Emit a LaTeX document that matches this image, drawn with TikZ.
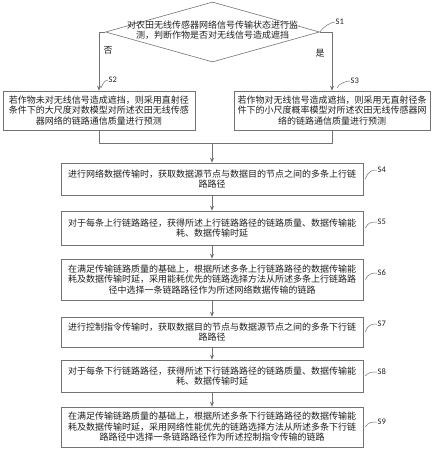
\documentclass[tikz,border=0pt]{standalone}
\usepackage{fontspec}
\setmainfont{Carlito}
\newfontfamily\cjk{Noto Sans CJK SC}
\usetikzlibrary{arrows.meta,shapes.geometric}
\definecolor{linec}{gray}{0.45}
\definecolor{txtc}{gray}{0.12}
\begin{document}
\begin{tikzpicture}[x=1pt,y=-1pt,
  box/.style={draw=linec, line width=0.6pt, inner sep=0pt, align=center, text=txtc,
    font=\cjk\fontsize{9}{10.5}\selectfont},
  dia/.style={draw=linec, line width=0.6pt, shape=diamond, inner sep=0pt,
    minimum width=214pt, minimum height=60pt},
  txt/.style={inner sep=0pt, align=center, text=txtc, font=\cjk\fontsize{9}{10.5}\selectfont},
  lab/.style={inner sep=0.5pt, text=txtc, font=\fontsize{8.5}{10}\selectfont},
  arr/.style={draw=linec, line width=0.6pt, -{Stealth[length=5pt,width=4pt]}},
  ln/.style={draw=linec, line width=0.6pt},
  leader/.style={draw=linec, line width=0.5pt}]
\useasboundingbox (0,0) rectangle (436,450);

% decision
\node[dia] (d1) at (212.5,32) {};
\node[txt] (d1t) at (212.5,30) {对农田无线传感器网络信号传输状态进行监\\测，判断作物是否对无线信号造成遮挡};
\node[txt] (no) at (108,50) {否};
\node[txt] (yes) at (320,53) {是};

% boxes
\node[box, minimum width=192pt, minimum height=39pt] (s2) at (99,110.5)
  {若作物未对无线信号造成遮挡，则采用直射径\\条件下的大尺度对数模型对所述农田无线传感\\器网络的链路通信质量进行预测};
\node[box, minimum width=196pt, minimum height=39pt] (s3) at (332,110.5)
  {若作物对无线信号造成遮挡，则采用无直射径条\\件下的小尺度概率模型对所述农田无线传感器网\\络的链路通信质量进行预测};
\node[box, minimum width=302pt, minimum height=32pt] (s4) at (212,179)
  {进行网络数据传输时，获取数据源节点与数据目的节点之间的多条上行链\\路路径};
\node[box, minimum width=302pt, minimum height=34pt] (s5) at (212,228)
  {对于每条上行链路路径，获得所述上行链路路径的链路质量、数据传输能\\耗、数据传输时延};
\node[box, minimum width=302pt, minimum height=41pt] (s6) at (212,279.5)
  {在满足传输链路质量的基础上，根据所述多条上行链路路径的数据传输能\\耗及数据传输时延，采用能耗优先的链路选择方法从所述多条上行链路路\\径中选择一条链路路径作为所述网络数据传输的链路};
\node[box, minimum width=302pt, minimum height=30pt] (s7) at (212,332)
  {进行控制指令传输时，获取数据目的节点与数据源节点之间的多条下行链\\路路径};
\node[box, minimum width=302pt, minimum height=32pt] (s8) at (212,376)
  {对于每条下行链路路径，获得所述下行链路路径的链路质量、数据传输能\\耗、数据传输时延};
\node[box, minimum width=302pt, minimum height=40pt] (s9) at (212,427)
  {在满足传输链路质量的基础上，根据所述多条下行链路路径的数据传输能\\耗及数据传输时延，采用网络性能优先的链路选择方法从所述多条下行链\\路路径中选择一条链路路径作为所述控制指令传输的链路};

% connectors
\draw[arr] (d1.west) -| (s2.north);
\draw[arr] (d1.east) -| (s3.north);
\coordinate (m) at (212,143);
\draw[ln] (s2.south) |- (m);
\draw[ln] (s3.south) |- (m);
\draw[arr] (m) -- (s4.north);
\draw[arr] (s4) -- (s5);
\draw[arr] (s5) -- (s6);
\draw[arr] (s6) -- (s7);
\draw[arr] (s7) -- (s8);
\draw[arr] (s8) -- (s9);

% step labels
\node[lab, anchor=west] (l1) at (335,22) {S1};
\node[lab, anchor=west] (l2) at (108,80) {S2};
\node[lab, anchor=west] (l3) at (350,81) {S3};
\node[lab, anchor=west] (l4) at (377,170) {S4};
\node[lab, anchor=west] (l5) at (377,222) {S5};
\node[lab, anchor=west] (l6) at (377,273) {S6};
\node[lab, anchor=west] (l7) at (377,324) {S7};
\node[lab, anchor=west] (l8) at (377,372) {S8};
\node[lab, anchor=west] (l9) at (377,422) {S9};

\coordinate (c2) at (101,88);
\coordinate (c3) at (337,88);
\draw[leader] (d1.east) .. controls +(3,-5) and +(-4,0) .. (l1.west);
\draw[leader] (c2) .. controls +(2,-5) and +(-3,0) .. (l2.west);
\draw[leader] (c3) .. controls +(2,-5) and +(-3,0) .. (l3.west);
\draw[leader] ([xshift=2pt]s4.east) .. controls +(3,-8) and +(-5,0) .. (l4.west);
\draw[leader] ([xshift=2pt]s5.east) .. controls +(3,-6) and +(-5,0) .. (l5.west);
\draw[leader] ([xshift=2pt]s6.east) .. controls +(3,-6) and +(-5,0) .. (l6.west);
\draw[leader] ([xshift=2pt]s7.east) .. controls +(3,-8) and +(-5,0) .. (l7.west);
\draw[leader] ([xshift=2pt]s8.east) .. controls +(3,-4) and +(-5,0) .. (l8.west);
\draw[leader] ([xshift=2pt]s9.east) .. controls +(3,-5) and +(-5,0) .. (l9.west);
\end{tikzpicture}
\end{document}
